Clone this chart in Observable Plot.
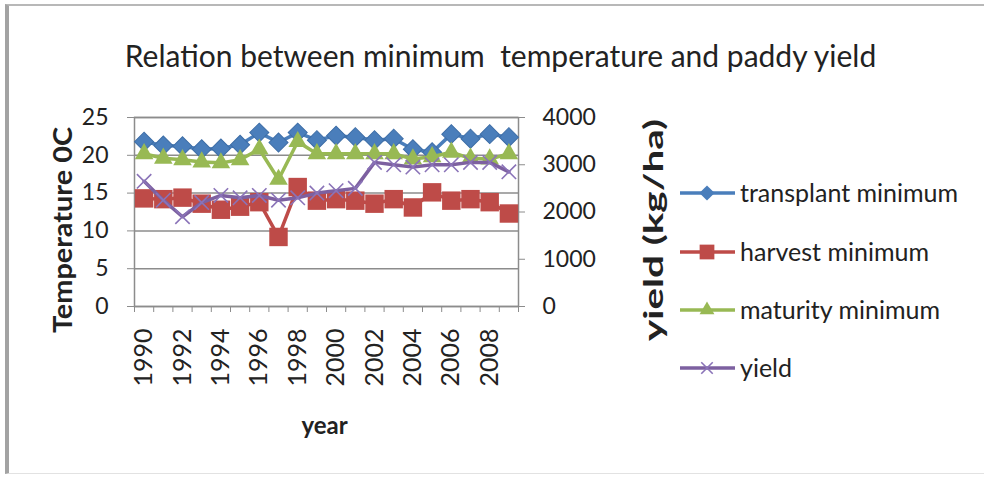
<!DOCTYPE html>
<html>
<head>
<meta charset="utf-8">
<script src="https://cdn.jsdelivr.net/npm/d3@7"></script>
<script src="https://cdn.jsdelivr.net/npm/@observablehq/plot@0.6"></script>
<style>
  body { margin: 0; background: #fff; }
  #wrap { position: relative; width: 984px; height: 478px; overflow: hidden; font-family: Lato, "Open Sans", sans-serif; color: #222; }
  #frame { position: absolute; left: 5px; top: 4px; width: 990px; height: 467px; border-left: 4px solid #a3a3a3; border-top: 2px solid #b8b8b8; border-bottom: 1px solid #e2e2e2; }
  #chart { position: absolute; left: 0; top: 0; }
  #legend { position: absolute; left: 0; top: 0; }
</style>
</head>
<body>
<div id="wrap">
  <div id="frame"></div>
  <div id="chart"></div>
  <svg id="legend" width="984" height="478"></svg>
</div>
<script>
// Yearly series, 1990–2009
const years = [1990, 1991, 1992, 1993, 1994, 1995, 1996, 1997, 1998, 1999,
               2000, 2001, 2002, 2003, 2004, 2005, 2006, 2007, 2008, 2009];
const transplantMin = [21.8, 21.3, 21.2, 20.8, 20.9, 21.4, 23.0, 21.7, 23.0, 22.0,
                       22.6, 22.4, 22.0, 22.2, 20.8, 20.4, 22.8, 22.2, 22.8, 22.4];
const harvestMin = [14.3, 14.2, 14.4, 13.6, 12.8, 13.2, 13.8, 9.2, 15.8, 14.0,
                    14.2, 14.0, 13.6, 14.2, 13.1, 15.1, 14.0, 14.2, 13.8, 12.3];
const maturityMin = [20.2, 19.6, 19.4, 19.1, 19.0, 19.4, 20.8, 16.8, 21.8, 20.2,
                     20.2, 20.2, 20.2, 20.2, 19.5, 19.8, 20.4, 19.6, 19.5, 20.2];
const paddyYield = [2650, 2250, 1900, 2200, 2350, 2300, 2350, 2250, 2300, 2400,
                    2450, 2500, 3050, 3000, 2950, 3000, 3000, 3050, 3050, 2850];

// Axis ticks
const tempTicks = [0, 5, 10, 15, 20, 25];
const yieldTicks = [0, 1000, 2000, 3000, 4000];
const yearLabels = [1990, 1992, 1994, 1996, 1998, 2000, 2002, 2004, 2006, 2008];

// Series names and colours
const seriesNames = ["transplant minimum", "harvest minimum", "maturity minimum", "yield"];
const seriesColors = ["#4A7EBB", "#BE4B48", "#98B954", "#7D60A0"];

// Titles
const chartTitle = "Relation between minimum  temperature and paddy yield";
const tempLabel = "Temperature 0C";
const yieldLabel = "yield (kg/ha)";
const yearLabel = "year";

// The yield axis (right) shares the temperature frame: 4000 kg/ha ↔ 25 °C
const tempMax = tempTicks[tempTicks.length - 1];
const yieldMax = yieldTicks[yieldTicks.length - 1];
const k = yieldMax / tempMax;

const rows = years.map((year, i) => ({
  year,
  transplant: transplantMin[i],
  harvest: harvestMin[i],
  maturity: maturityMin[i],
  yieldT: paddyYield[i] / k
}));

// category boundaries for the tick marks between years
const bounds = years.map(y => y - 0.5).concat([years[years.length - 1] + 0.5]);

// marker sizes (Plot dot radius)
const symRadius = [7.6, 10.4, 6.9, 6.6];

const grid = "#8c8c8c";
const chart = Plot.plot({
  width: 984,
  height: 478,
  marginLeft: 134,
  marginRight: 466,
  marginTop: 117,
  marginBottom: 172,
  style: { fontFamily: "Lato, 'Open Sans', sans-serif", fontSize: "23px", color: "#222", background: "transparent", overflow: "visible" },
  x: { domain: [bounds[0], bounds[bounds.length - 1]] },
  y: { domain: [0, tempMax] },
  marks: [
    Plot.gridY(tempTicks, { stroke: grid, strokeOpacity: 1, strokeWidth: 1.5 }),
    Plot.frame({ stroke: grid, strokeWidth: 1.5 }),
    Plot.axisY(tempTicks, { anchor: "left", tickSize: 7, tickPadding: 19, stroke: grid, fill: "#222", label: null, fontSize: 23 }),
    Plot.axisY(yieldTicks.map(v => v / k), { anchor: "right", tickSize: 6, tickPadding: 18, stroke: grid, fill: "#222", label: null, fontSize: 23, tickFormat: d => String(Math.round(d * k)) }),
    Plot.axisX(bounds, { tickSize: 6, stroke: grid, tickFormat: () => "", label: null }),
    Plot.axisX(yearLabels, { tickSize: 0, tickPadding: 22, tickRotate: -90, tickFormat: "d", fill: "#222", fontSize: 25, label: null }),

    // temperature series
    Plot.line(rows, { x: "year", y: "transplant", stroke: seriesColors[0], strokeWidth: 3.5 }),
    Plot.dot(rows, { x: "year", y: "transplant", symbol: "square", rotate: 45, r: symRadius[0], fill: seriesColors[0], stroke: "#3d6da6", strokeWidth: 1 }),
    Plot.line(rows, { x: "year", y: "harvest", stroke: seriesColors[1], strokeWidth: 3.5 }),
    Plot.dot(rows, { x: "year", y: "harvest", symbol: "square", r: symRadius[1], fill: seriesColors[1] }),
    Plot.line(rows, { x: "year", y: "maturity", stroke: seriesColors[2], strokeWidth: 3.5 }),
    Plot.dot(rows, { x: "year", y: "maturity", symbol: "triangle", r: symRadius[2], fill: seriesColors[2] }),
    // yield on the secondary axis
    Plot.line(rows, { x: "year", y: "yieldT", stroke: seriesColors[3], strokeWidth: 3.5 }),
    Plot.dot(rows, { x: "year", y: "yieldT", symbol: "times", r: symRadius[3], stroke: "#8a73b8", strokeWidth: 1.6 }),

    // titles
    Plot.text([chartTitle], { frameAnchor: "top", dx: 174, dy: -60, lineAnchor: "middle", fontSize: 30, fill: "#222" }),
    Plot.text([tempLabel], { frameAnchor: "left", textAnchor: "middle", dx: -71, dy: 18, rotate: -90, fontSize: 27, fontWeight: "bold", fill: "#222" }),
    Plot.text([yieldLabel], { frameAnchor: "right", textAnchor: "middle", dx: 136, dy: 18, rotate: -90, fontSize: 26, fontWeight: "bold", fill: "#222" }),
    Plot.text([yearLabel], { frameAnchor: "bottom", lineAnchor: "middle", dx: -2, dy: 120, fontSize: 24, fontWeight: "bold", fill: "#222" })
  ]
});
document.getElementById("chart").appendChild(chart);

// the rotated axis titles are drawn tall and narrow
const stretched = new Map([[tempLabel, 206], [yieldLabel, 222]]);
d3.select(chart).selectAll("text").each(function () {
  const len = stretched.get(this.textContent);
  if (len) d3.select(this).attr("textLength", len).attr("lengthAdjust", "spacingAndGlyphs");
});

// Legend: line swatch with marker, then label
const legend = d3.select("#legend");
const symbols = [d3.symbolSquare, d3.symbolSquare, d3.symbolTriangle, d3.symbolTimes];
const rowY = [193, 252, 310, 368];
seriesNames.forEach((name, i) => {
  const g = legend.append("g").attr("transform", `translate(0,${rowY[i]})`);
  g.append("line").attr("x1", 680).attr("x2", 735).attr("y1", 0).attr("y2", 0)
    .attr("stroke", seriesColors[i]).attr("stroke-width", 3.5);
  const r = symRadius[i] * 0.8;
  const path = d3.symbol(symbols[i], Math.PI * r * r)();
  const m = g.append("path").attr("d", path)
    .attr("transform", `translate(707,0)${i === 0 ? " rotate(45)" : ""}`);
  if (i === 3) m.attr("fill", "none").attr("stroke", "#8a73b8").attr("stroke-width", 1.6);
  else m.attr("fill", seriesColors[i]);
  g.append("text").attr("x", 740).attr("y", 0).attr("dy", "0.35em")
    .attr("font-size", 25).attr("fill", "#222").text(name);
});
</script>
</body>
</html>
